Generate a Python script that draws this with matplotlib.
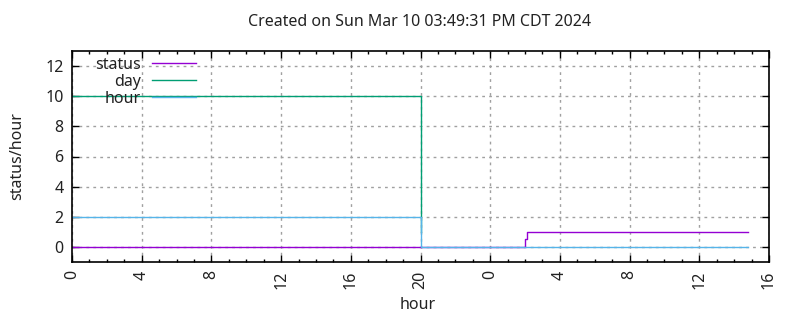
import matplotlib
matplotlib.use("Agg")
import matplotlib.pyplot as plt
from matplotlib.ticker import MultipleLocator, FixedLocator

plt.rcParams['font.family'] = ['Noto Sans', 'DejaVu Sans']

title = "Created on Sun Mar 10 03:49:31 PM CDT 2024"

# hours since start of first day
status_x = [0, 20.0, 20.05, 26.0, 26.0, 26.1, 26.1, 38.8]
status_y = [0, 0, 0, 0, 0.5, 0.5, 1, 1]

day_x = [0, 20.0, 20.0, 20.05, 20.05]
day_y = [10, 10, 5, 5, 1]

hour_x = [0, 20.0, 20.0, 20.05, 20.05, 38.8]
hour_y = [2, 2, 1, 1, 0, 0]

xtick_vals = [0, 4, 8, 12, 16, 20, 24, 28, 32, 36, 40]
xtick_labels = ["0", "4", "8", "12", "16", "20", "0", "4", "8", "12", "16"]
ytick_vals = [0, 2, 4, 6, 8, 10, 12]

FS = 11.5
W, H = 800, 320
L, R, T, B = 72, 769, 51, 262

fig = plt.figure(figsize=(8, 3.2), dpi=100)
ax = fig.add_axes([L/W, 1 - B/H, (R-L)/W, (B-T)/H])

ax.plot(status_x, status_y, color='#9400d3', lw=1.0, label='status')
ax.plot(day_x, day_y, color='#009e73', lw=1.0, label='day')
ax.plot(hour_x, hour_y, color='#56b4e9', lw=1.0, label='hour')

ax.set_xlim(0, 40)
ax.set_ylim(-1, 13)
ax.xaxis.set_major_locator(FixedLocator(xtick_vals))
ax.set_xticklabels(xtick_labels, rotation=90)
ax.xaxis.set_minor_locator(MultipleLocator(1))
ax.yaxis.set_major_locator(FixedLocator(ytick_vals))

ax.tick_params(axis='both', which='major', direction='in', length=5, width=1,
               top=True, right=True, labelsize=FS, pad=6, colors='black')
ax.tick_params(axis='x', which='minor', direction='in', length=2.5, width=1,
               top=True)
for lbl in ax.get_xticklabels() + ax.get_yticklabels():
    lbl.set_color('#222222')
for sp in ax.spines.values():
    sp.set_linewidth(1.2)
    sp.set_color('black')

ax.grid(True, which='major', color='#a0a0a0', linestyle=(0, (2, 3)), lw=1)
ax.set_axisbelow(True)

ax.set_ylabel("status/hour", fontsize=FS, color='#222222', va='center')
ax.yaxis.set_label_coords(-(L - 17)/(R - L), 0.5)
ax.set_xlabel("hour", fontsize=FS, color='#222222', va='center')
ax.xaxis.set_label_coords((418 - L)/(R - L), -(305 - B)/(B - T))
fig.text(420/W, 1 - 22/H, title, fontsize=FS, ha='center', va='center', color='#222222')

leg = ax.legend(loc='upper left', frameon=False, fontsize=FS, markerfirst=False,
                handlelength=2.75, handletextpad=0.7, labelspacing=0.05,
                borderaxespad=0, borderpad=0,
                bbox_to_anchor=((95 - L)/(R - L), 1 - 6/(B - T)))
for t in leg.get_texts():
    t.set_ha('right')
    t.set_color('#222222')
leg._legend_box.align = 'right'

fig.savefig("out.png", dpi=100)
